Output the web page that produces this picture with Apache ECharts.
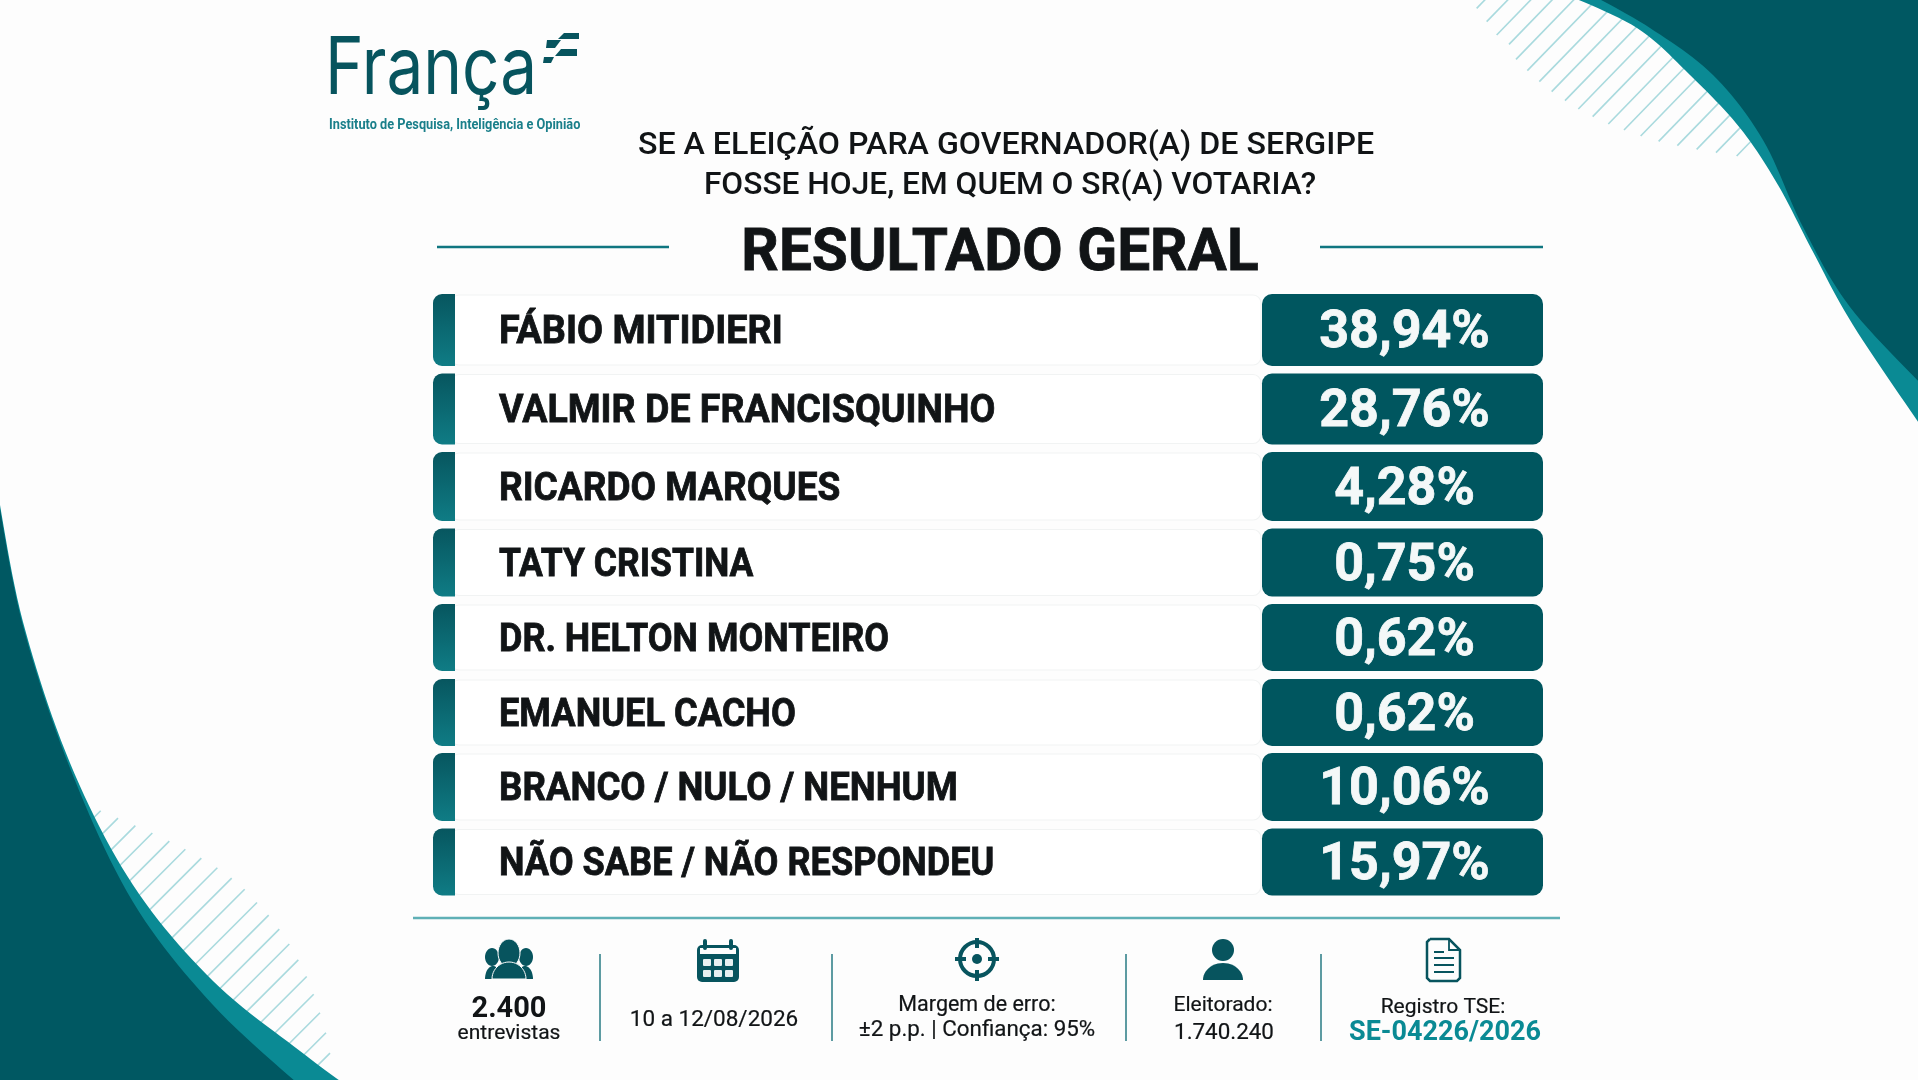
<!DOCTYPE html>
<html><head><meta charset="utf-8">
<style>html,body{margin:0;padding:0;background:#fdfdfd}#c{width:1918px;height:1080px}</style>
<script src="https://cdn.jsdelivr.net/npm/echarts@6/dist/echarts.min.js"></script>
</head><body><div id="c"></div>
<script>
// ---- data ----
const categories = ['FÁBIO MITIDIERI','VALMIR DE FRANCISQUINHO','RICARDO MARQUES','TATY CRISTINA','DR. HELTON MONTEIRO','EMANUEL CACHO','BRANCO / NULO / NENHUM','NÃO SABE / NÃO RESPONDEU'];
const values = [38.94,28.76,4.28,0.75,0.62,0.62,10.06,15.97];
const questionLines = ['SE A ELEIÇÃO PARA GOVERNADOR(A) DE SERGIPE','FOSSE HOJE, EM QUEM O SR(A) VOTARIA?'];
const heading = 'RESULTADO GERAL';
const brand = 'França';
const brandSub = 'Instituto de Pesquisa, Inteligência e Opinião';
const footInterviews = ['2.400','entrevistas'];
const footDate = '10 a 12/08/2026';
const footMargin = ['Margem de erro:','±2 p.p. | Confiança: 95%'];
const footElectorate = ['Eleitorado:','1.740.240'];
const footRegister = ['Registro TSE:','SE-04226/2026'];

// ---- layout tweaks (row offsets relative to the category band, text fit) ----
const rowNudge = [-2.5,1.5,4,5,5,5,4.5,4.5];
const rowHeight = [72,71,69,68,67,67,68,67];
const nameFit = [0.97,0.963,0.95,0.909,0.923,0.928,0.94,0.926];
const DARK='#00565F', TEAL='#0A8A94', INK='#111416';
const FF='Roboto';

function T(text,x,y,size,weight,color,align,sx,font,bold){
  const st={text:text,x:0,y:0,fontFamily:font||FF,fontSize:size,fontWeight:weight,fill:color,align:align||'center',verticalAlign:'middle'};
  if(bold){st.stroke=color;st.lineWidth=bold;}
  return {type:'text',x:x,y:y,scaleX:sx||1,silent:true,z:10,style:st};
}
function L(x1,y1,x2,y2,c,w,z){return {type:'line',silent:true,z:z||5,shape:{x1,y1,x2,y2},style:{stroke:c,lineWidth:w}};}
function curve(pts){ // sampled Catmull-Rom
  const out=[];
  for(let i=0;i<pts.length-1;i++){
    const p0=pts[i-1]||pts[i],p1=pts[i],p2=pts[i+1],p3=pts[i+2]||p2;
    for(let k=0;k<12;k++){
      const t=k/12,t2=t*t,t3=t2*t;
      const f=j=>0.5*(2*p1[j]+(p2[j]-p0[j])*t+(2*p0[j]-5*p1[j]+4*p2[j]-p3[j])*t2+(3*p1[j]-p0[j]-3*p2[j]+p3[j])*t3);
      out.push([f(0),f(1)]);
    }
  }
  out.push(pts[pts.length-1]);
  return out;
}
function poly(points,fill,z,stroke,lw){const s={fill};if(stroke){s.stroke=stroke;s.lineWidth=lw;}return {type:'polygon',silent:true,z:z||3,shape:{points},style:s};}
function pline(points,stroke,lw,z){return {type:'polyline',silent:true,z:z||5,shape:{points},style:{stroke,lineWidth:lw,fill:null}};}
function dome(cx,base,rx,ry){const p=[];for(let k=0;k<=24;k++){const a=Math.PI*k/24;p.push([cx-rx*Math.cos(a),base-ry*Math.sin(a)]);}return p;}
function E(cx,cy,rx,ry,fill,z,stroke,lw){const s={fill};if(stroke){s.stroke=stroke;s.lineWidth=lw;}return {type:'ellipse',silent:true,z:z||5,shape:{cx,cy,rx,ry},style:s};}

const topOuter=[[1565,-6],[1637,28],[1690,75],[1740,128],[1778,185],[1812,250],[1853,325],[1925,432]];
const topInner=[[1590,-6],[1650,28],[1713,75],[1763,140],[1803,227],[1850,307],[1925,388]];
const botOuter=[[-2,494],[23,622],[70,763],[133,885],[213,981],[300,1051],[350,1088]];
const botInner=[[-2,498],[23,626],[70,768],[133,902],[213,1005],[305,1090]];
const topHatch=[[80,25],[110,65],[140,105],[177,133],[198,178],[232,212],[268,245],[305,275],[345,302],[385,327],[428,350],[475,372],[522,390],[572,408],[626,424],[682,437],[740,448],[798,458],[860,468]].map(p=>[1450+p[0]/3,p[1]/3]);
const botHatch=[[302,840],[354,860],[406,880],[457,900],[508,922],[556,944],[604,968],[652,994],[695,1022],[734,1052],[771,1088],[806,1122],[838,1160],[868,1200],[895,1243],[920,1288],[941,1336],[960,1386],[978,1440],[990,1495]].map(p=>[p[0]/3,500+p[1]/2.703]);

const decor=[];
topHatch.forEach(p=>decor.push(L(p[0],p[1],p[0]+260,p[1]-260*1.03,'#A9DADE',1.6,1)));
botHatch.forEach(p=>decor.push(L(p[0],p[1],p[0]-200,p[1]+200,'#A9DADE',1.6,1)));
decor.push(poly(curve(topOuter).concat([[1925,-6]]),TEAL,2));
decor.push(poly(curve(topInner).concat([[1925,-6]]),'#005862',3));
decor.push(poly(curve(botOuter).concat([[-2,1088]]),TEAL,2));
decor.push(poly(curve(botInner).concat([[-2,1090]]),'#005862',3));

// logo
decor.push(T(brand,325,70,80,400,'#07545E','left',0.82,'Inter'));
decor.push(T(brandSub,329,125,15,700,'#1A7F8A','left',0.85));
[[[564,33],[579,33],[579,39],[558,39]],[[547,40],[561,40],[555,48],[546,48]],[[561,49],[577,49],[577,56],[555,56]],[[544,57],[554,57],[551,63],[543,63]]].forEach(a=>decor.push(poly(a,'#07545E',4)));

// headings
decor.push(T(questionLines[0],1006,146,32,500,INK,'center',1.005));
decor.push(T(questionLines[1],1010,186,32,500,INK,'center',0.99));
decor.push(T(heading,1000,255,60,700,INK,'center',0.976,null,0.8));
decor.push(L(437,247,669,247,'#0F7680',2.4));
decor.push(L(1320,247,1543,247,'#0F7680',2.4));

// footer
decor.push(L(413,918,1560,918,'#5FB0B6',2.4));
[600,832,1126,1321].forEach(x=>decor.push(L(x,954,x,1041,'#5D9BA2',2)));
decor.push(T(footInterviews[0],509,1010,29,700,INK));
decor.push(T(footInterviews[1],509,1034,21,400,INK,'center',1,null,0.2));
decor.push(T(footDate,714,1020,22.5,400,INK,'center',1,null,0.2));
decor.push(T(footMargin[0],977,1006,21.5,400,INK,'center',1.0,null,0.2));
decor.push(T(footMargin[1],977,1031,21.5,400,INK,'center',1.04,null,0.2));
decor.push(T(footElectorate[0],1223,1006,21,400,INK,'center',1,null,0.2));
decor.push(T(footElectorate[1],1224,1033,22.4,400,INK,'center',1,null,0.2));
decor.push(T(footRegister[0],1443,1008,21,400,INK,'center',1,null,0.2));
decor.push(T(footRegister[1],1445,1033,27,700,TEAL));

// icons
const IC='#07545E', PAPER='#fdfdfd';
// people
decor.push(E(509,953,11,14,IC,6,PAPER,1));
decor.push(E(492,957,7,9,IC,4));
decor.push(E(526,957,7,9,IC,4));
decor.push(poly(dome(509,979,17,17),IC,6,PAPER,1));
decor.push(poly(dome(493,979,8,13),IC,4));
decor.push(poly(dome(525,979,8,13),IC,4));
// calendar
decor.push({type:'rect',silent:true,z:5,shape:{x:697,y:945,width:42,height:37,r:5},style:{fill:IC}});
decor.push({type:'rect',silent:true,z:6,shape:{x:700,y:948,width:36,height:6},style:{fill:PAPER}});
[705,731].forEach(x=>decor.push({type:'rect',silent:true,z:7,shape:{x:x-2,y:939,width:4,height:11,r:2},style:{fill:IC}}));
[703,714,725].forEach(x=>[959,970].forEach(y=>decor.push({type:'rect',silent:true,z:7,shape:{x:x,y:y,width:8,height:7,r:1},style:{fill:'#e8f0f1'}})));
// target
decor.push({type:'circle',silent:true,z:5,shape:{cx:977,cy:959,r:17},style:{fill:'none',stroke:IC,lineWidth:4}});
decor.push({type:'circle',silent:true,z:5,shape:{cx:977,cy:959,r:5},style:{fill:IC}});
decor.push(L(977,938,977,948,IC,4));decor.push(L(977,970,977,981,IC,4));
decor.push(L(955,959,966,959,IC,4));decor.push(L(988,959,999,959,IC,4));
// person
decor.push({type:'circle',silent:true,z:5,shape:{cx:1223,cy:950,r:11},style:{fill:IC}});
decor.push(poly(dome(1223,980,20,17),IC,5));
// document
decor.push(pline([[1430,939],[1449,939],[1460,950],[1460,978],[1457,981],[1430,981],[1427,978],[1427,942],[1430,939]],IC,2.5));
decor.push(pline([[1449,939],[1449,950],[1460,950]],IC,1.8));
decor.push(L(1434,952,1444,952,IC,2));
[958,965,972].forEach(y=>decor.push(L(1434,y,1454,y,IC,2)));

const fmt=v=>v.toFixed(2).replace('.',',')+'%';

const chart=echarts.init(document.getElementById('c'));
chart.setOption({
  animation:false,
  backgroundColor:'#fdfdfd',
  grid:{left:433,top:295,width:1110,height:600,containLabel:false},
  xAxis:{type:'value',min:0,max:100,show:false},
  yAxis:{type:'category',inverse:true,data:categories,show:false},
  graphic:{elements:decor},
  series:[{
    type:'custom',
    coordinateSystem:'cartesian2d',
    encode:{x:0,y:1},
    data:values.map((v,i)=>[v,i]),
    clip:false,
    renderItem:function(params,api){
      const i=api.value(1);
      const v=api.value(0);
      const cs=params.coordSys;
      const cy=api.coord([0,i])[1]+rowNudge[i];
      const h=rowHeight[i];
      const top=cy-h/2;
      const left=cs.x, right=cs.x+cs.width;
      return {type:'group',children:[
        {type:'rect',z2:1,shape:{x:left+18,y:top+1,width:right-left-300,height:h-2,r:8},
          style:{fill:'#ffffff',stroke:'#f1f3f3',lineWidth:1.2}},
        {type:'rect',z2:2,shape:{x:left,y:top,width:22,height:h,r:[9,0,0,9]},
          style:{fill:new echarts.graphic.LinearGradient(0,0,0,1,[{offset:0,color:'#07565F'},{offset:1,color:'#0F7C85'}])}},
        {type:'rect',z2:2,shape:{x:right-281,y:top,width:281,height:h,r:10},style:{fill:DARK}},
        {type:'text',z2:3,x:499,y:cy+3.5,scaleX:nameFit[i],style:{text:categories[i],x:0,y:0,fontFamily:FF,fontSize:39,fontWeight:700,fill:INK,stroke:INK,lineWidth:0.8,align:'left',verticalAlign:'middle'}},
        {type:'text',z2:3,x:right-138.5,y:cy+4,scaleX:1,style:{text:fmt(v),x:0,y:0,fontFamily:FF,fontSize:52,fontWeight:700,fill:'#f4f8f8',stroke:'#f4f8f8',lineWidth:0.8,align:'center',verticalAlign:'middle'}}
      ]};
    }
  }]
});
</script></body></html>
